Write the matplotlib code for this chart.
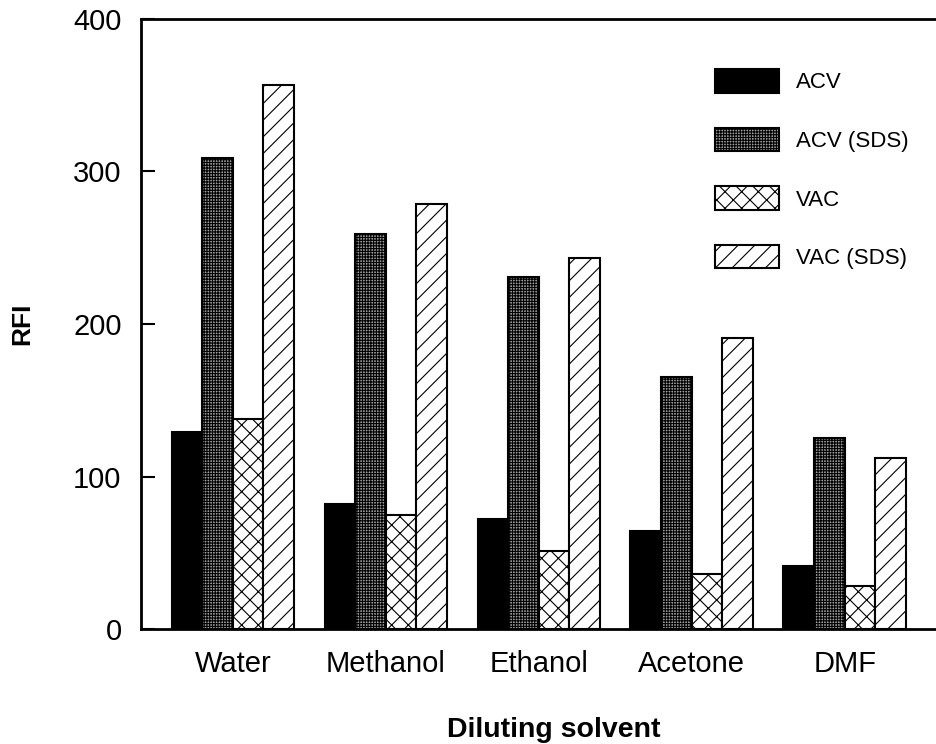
import numpy as np
import matplotlib
matplotlib.use("Agg")
import matplotlib.pyplot as plt

# -------------------------------
# Data
# -------------------------------
solvents = ["Water", "Methanol", "Ethanol", "Acetone", "DMF"]
series_names = ["ACV", "ACV (SDS)", "VAC", "VAC (SDS)"]
acv = [129, 82, 72, 64, 41]
acv_sds = [309, 259, 231, 165, 125]
vac = [138, 75, 51, 36, 28]
vac_sds = [357, 279, 243, 191, 112]
yticks = [0, 100, 200, 300, 400]

plt.rcParams['font.family'] = ['Liberation Sans', 'DejaVu Sans']
plt.rcParams['hatch.linewidth'] = 0.8

fig = plt.figure(figsize=(9.37, 7.44), dpi=100)
# x range chosen so the axes runs past the right edge like the original
ax = fig.add_axes([141 / 937, 1 - 629 / 744, 826 / 937, 610 / 744])

x = np.arange(len(solvents))
width = 0.2
styles = [
    dict(facecolor="black", hatch=None),
    dict(facecolor="#a0a0a0", hatch="++++++"),
    dict(facecolor="white", hatch="xx"),
    dict(facecolor="white", hatch="//"),
]
all_vals = [acv, acv_sds, vac, vac_sds]
for k, (vals, st, name) in enumerate(zip(all_vals, styles, series_names)):
    ax.bar(x + (k - 1.5) * width, vals, width, facecolor=st["facecolor"],
           hatch=st["hatch"], edgecolor="black", linewidth=1.5, label=name)

ax.set_xlim(-0.6, 4.8)
ax.set_ylim(0, 400)
ax.set_yticks(yticks)
ax.set_xticks(x)
ax.set_xticklabels(solvents)
ax.tick_params(axis="y", direction="in", length=10, width=1.5, labelsize=21, pad=14)
ax.tick_params(axis="x", length=0, labelsize=21, pad=15)

for side in ["left", "bottom", "top"]:
    ax.spines[side].set_linewidth(2)
ax.spines["right"].set_visible(False)

ax.set_xlabel("Diluting solvent", fontsize=20.5, fontweight="bold", labelpad=28)
ax.set_ylabel("RFI", fontsize=19, fontweight="bold", labelpad=28)

fig.legend(loc="upper left", bbox_to_anchor=(695 / 937, 1 - 49 / 744),
           frameon=False, fontsize=16, handlelength=2.9, handleheight=1.25,
           labelspacing=1.55, handletextpad=0.75)

fig.savefig("out.png", dpi=100)
